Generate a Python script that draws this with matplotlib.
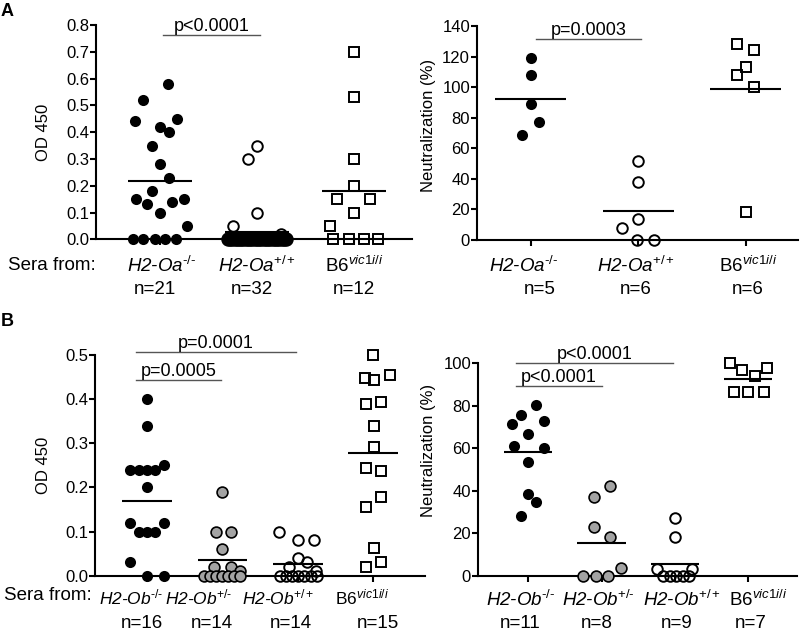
"""
Sérologie H2-O : ELISA (OD 450) et neutralisation, panneaux A et B
"""
import numpy as np
import matplotlib
matplotlib.use('Agg')
import matplotlib.pyplot as plt

plt.rcParams['font.family'] = ['Liberation Sans', 'DejaVu Sans']
plt.rcParams['mathtext.fontset'] = 'custom'
plt.rcParams['mathtext.rm'] = 'Liberation Sans'
plt.rcParams['mathtext.it'] = 'Liberation Sans:italic'

W, H = 800, 631

# ---------------- données ----------------
# A gauche : OD 450
a_od_oa_ko = [0.58, 0.52, 0.44, 0.42, 0.40, 0.45, 0.35, 0.28, 0.23, 0.18, 0.15,
              0.13, 0.10, 0.14, 0.15, 0.05, 0, 0, 0, 0, 0]
a_od_oa_wt = [0.30, 0.35, 0.10, 0.05, 0.02] + [0] * 27
a_od_b6 = [0.70, 0.53, 0.30, 0.20, 0.15, 0.15, 0.10, 0.05, 0, 0, 0, 0]

# A droite : neutralisation (%)
a_neu_oa_ko = [119, 108, 89, 77, 69]
a_neu_oa_wt = [52, 38, 14, 8, 0, 0]
a_neu_b6 = [128, 124, 113, 108, 100, 18]

# B gauche : OD 450
b_od_ob_ko = [0.40, 0.34, 0.24, 0.24, 0.24, 0.24, 0.25, 0.20, 0.12, 0.10, 0.10,
              0.10, 0.12, 0.03, 0, 0]
b_od_ob_het = [0.19, 0.10, 0.10, 0.06, 0.02, 0.02, 0.01, 0, 0, 0, 0, 0, 0, 0]
b_od_ob_wt = [0.10, 0.08, 0.08, 0.04, 0.03, 0.02, 0.01, 0, 0, 0, 0, 0, 0, 0]
b_od_b6 = [0.50, 0.447, 0.443, 0.455, 0.389, 0.394, 0.339, 0.291, 0.243, 0.238,
           0.179, 0.156, 0.062, 0.030, 0.020]

# B droite : neutralisation (%)
b_neu_ob_ko = [80.4, 71.5, 75.7, 73.0, 66.6, 61.1, 60.0, 53.7, 38.3, 34.6, 28.1]
b_neu_ob_het = [42, 37, 23, 18, 3.5, 0, 0, 0]
b_neu_ob_wt = [27, 18, 3, 3, 0, 0, 0, 0, 0]
b_neu_b6 = [100, 97, 94, 98, 86.7, 86.7, 86.7]

# étiquettes (trait d'union U+2010 pour éviter le signe moins de mathtext)
HY = '\u2010'
lab_oa = [r'H2-Oa$^{\mathit{%s/%s}}$' % (HY, HY), r'H2-Oa$^{\mathit{+/+}}$',
          r'B6$^{\mathit{vic1i/i}}$']
lab_ob = [r'H2-Ob$^{\mathit{%s/%s}}$' % (HY, HY), r'H2-Ob$^{\mathit{+/%s}}$' % HY,
          r'H2-Ob$^{\mathit{+/+}}$', r'B6$^{\mathit{vic1i/i}}$']
n_a_od = ['n=21', 'n=32', 'n=12']
n_a_neu = ['n=5', 'n=6', 'n=6']
n_b_od = ['n=16', 'n=14', 'n=14', 'n=15']
n_b_neu = ['n=11', 'n=8', 'n=9', 'n=7']

# p-values : (x début, x fin, hauteur, texte)
sig_a_od = [(1.03, 2.03, 0.763, 'p<0.0001')]
sig_a_neu = [(1.05, 2.03, 131.3, 'p=0.0003')]
sig_b_od = [(0.85, 2.98, 0.506, 'p=0.0001'), (0.85, 1.98, 0.443, 'p=0.0005')]
sig_b_neu = [(0.83, 2.98, 100.3, 'p<0.0001'), (0.83, 2.0, 89.4, 'p<0.0001')]

# ---------------- positions horizontales des points (jitter) ----------------
jit_a_od = [
    [0.08, -0.18, -0.26, 0, 0.09, 0.18, -0.08, 0, 0.09, -0.08, -0.25, -0.13, 0,
     0.12, 0.25, 0.28, -0.28, -0.17, -0.05, 0.05, 0.17],
    [-0.09, 0, 0, -0.25, 0.25] + list(np.linspace(-0.3, 0.3, 27)),
    [0, 0, 0, 0, -0.17, 0.17, 0, -0.25, -0.21, -0.05, 0.10, 0.25],
]
jit_a_neu = [
    [0, 0, 0, 0.08, -0.08],
    [0, 0, 0, -0.155, -0.01, 0.15],
    [-0.08, 0.075, 0, -0.08, 0.075, 0],
]
jit_b_od = [
    [0, 0, -0.22, -0.11, 0, 0.11, 0.23, 0, -0.22, -0.11, 0, 0.11, 0.22, -0.22, 0, 0.22],
    [0, -0.09, 0.115, 0, -0.11, 0.11, 0.24, -0.24, -0.16, -0.08, 0, 0.08, 0.16, 0.23],
    [-0.25, 0, 0.22, 0, 0.13, -0.12, 0.24, -0.23, -0.15, -0.07, 0.01, 0.09, 0.17, 0.25],
    [0, -0.10, 0.01, 0.22, -0.09, 0.11, 0.01, 0.01, -0.09, 0.11, 0.11, -0.09, 0.01,
     0.11, -0.09],
]
jit_b_neu = [
    [0.11, -0.22, -0.10, 0.22, 0, -0.2, 0.22, 0, 0, 0.11, -0.10],
    [0.11, -0.10, -0.10, 0.11, 0.26, -0.25, -0.08, 0.09],
    [0, 0, -0.25, 0.24, -0.16, -0.07, 0.02, 0.11, 0.19],
    [-0.25, -0.09, 0.09, 0.25, -0.2, 0, 0.21],
]

STYLES = {
    'black': dict(marker='o', ms=8, mfc='black', mec='black', mew=0),
    'open': dict(marker='o', ms=7.6, mfc='none', mec='black', mew=1.4),
    'grey': dict(marker='o', ms=7.8, mfc='#a3a3a3', mec='black', mew=1.2),
    'square': dict(marker='s', ms=7.2, mfc='none', mec='black', mew=1.4),
}


def make_axes(fig, x0, x1, ytop, ybot):
    """Crée un axe à partir d'une boîte en pixels"""
    return fig.add_axes([x0 / W, 1 - ybot / H, (x1 - x0) / W, (ybot - ytop) / H])


def draw_panel(ax, groups, jitters, styles, xlim, ylim, yticks, ytick_labels):
    for i, (vals, jit, st) in enumerate(zip(groups, jitters, styles)):
        x = i + 1 + np.array(jit)
        ax.plot(x, vals, ls='none', clip_on=False, zorder=3, **STYLES[st])
        m = np.mean(vals)
        ax.plot([i + 1 - 0.33, i + 1 + 0.33], [m, m], color='black', lw=1.5,
                zorder=4, clip_on=False, solid_capstyle='butt')
    ax.set_xlim(*xlim)
    ax.set_ylim(*ylim)
    ax.set_yticks(yticks)
    ax.set_yticklabels(ytick_labels)
    ax.set_xticks(range(1, len(groups) + 1))
    ax.set_xticklabels([])
    for s in ['top', 'right']:
        ax.spines[s].set_visible(False)
    for s in ['left', 'bottom']:
        ax.spines[s].set_linewidth(1.5)
    ax.tick_params(direction='out', length=4, width=1.5, labelsize=12, pad=1)
    ax.patch.set_alpha(0)


def draw_sig(ax, sigs):
    for xa, xb, yv, txt in sigs:
        ax.plot([xa, xb], [yv, yv], color='#555555', lw=1.0, clip_on=False)
        ax.annotate(txt, xy=((xa + xb) / 2, yv), xytext=(0, 4),
                    textcoords='offset pixels', ha='center', va='baseline',
                    fontsize=13, annotation_clip=False)


def draw_labels(ax, xs_name, names, xs_n, ns, dy_name, dy_n, name_size=13.5):
    for x, name in zip(xs_name, names):
        italic = name.startswith('H2')
        ax.annotate(name, xy=(x, 0), xycoords=('data', 'axes fraction'),
                    xytext=(0, -dy_name), textcoords='offset pixels',
                    ha='center', va='center', fontsize=name_size,
                    style='italic' if italic else 'normal', annotation_clip=False)
    for x, n in zip(xs_n, ns):
        ax.annotate(n, xy=(x, 0), xycoords=('data', 'axes fraction'),
                    xytext=(0, -dy_n), textcoords='offset pixels',
                    ha='center', va='center', fontsize=13.5, annotation_clip=False)


fig = plt.figure(figsize=(W / 100, H / 100), dpi=100)

# ---- A gauche
ax1 = make_axes(fig, 96, 412, 25, 239.3)
draw_panel(ax1, [a_od_oa_ko, a_od_oa_wt, a_od_b6], jit_a_od,
           ['black', 'open', 'square'], (0.34, 3.6), (0, 0.8),
           np.arange(0, 0.81, 0.1), ['%.1f' % v for v in np.arange(0, 0.81, 0.1)])
# les 27 zéros se chevauchent en bande noire pleine
zx = 2 + np.array(jit_a_od[1])
zmask = np.array(a_od_oa_wt) == 0
ax1.plot(zx[zmask], np.array(a_od_oa_wt)[zmask], ls='none', marker='o', ms=7.6,
         mfc='none', mec='black', mew=2.8, clip_on=False, zorder=3)
draw_sig(ax1, sig_a_od)
draw_labels(ax1, [1.02, 2.0, 3.0], lab_oa, [0.95, 1.95, 3.0], n_a_od, 27, 50)

# ---- A droite
ax2 = make_axes(fig, 477, 798, 26, 240)
draw_panel(ax2, [a_neu_oa_ko, a_neu_oa_wt, a_neu_b6], jit_a_neu,
           ['black', 'open', 'square'], (0.5, 3.486), (0, 140),
           range(0, 141, 20), [str(v) for v in range(0, 141, 20)])
draw_sig(ax2, sig_a_neu)
draw_labels(ax2, [0.93, 1.98, 3.02], lab_oa, [1.08, 1.98, 3.02], n_a_neu, 26, 49)

# ---- B gauche
ax3 = make_axes(fig, 95, 425, 355, 575.7)
draw_panel(ax3, [b_od_ob_ko, b_od_ob_het, b_od_ob_wt, b_od_b6], jit_b_od,
           ['black', 'grey', 'open', 'square'], (0.309, 4.69), (0, 0.5),
           np.arange(0, 0.51, 0.1), ['%.1f' % v for v in np.arange(0, 0.51, 0.1)])
draw_sig(ax3, sig_b_od)
draw_labels(ax3, [0.79, 1.68, 2.74, 3.86], lab_ob, [0.93, 1.86, 2.91, 4.07], n_b_od, 22, 48,
            name_size=12.5)

# ---- B droite
ax4 = make_axes(fig, 478, 797, 363.3, 575.7)
draw_panel(ax4, [b_neu_ob_ko, b_neu_ob_het, b_neu_ob_wt, b_neu_b6], jit_b_neu,
           ['black', 'grey', 'open', 'square'], (0.314, 4.666), (0, 100),
           range(0, 101, 20), [str(v) for v in range(0, 101, 20)])
draw_sig(ax4, sig_b_neu)
draw_labels(ax4, [0.89, 1.96, 3.1, 4.14], lab_ob, [0.89, 1.94, 3.03, 4.03], n_b_neu, 24, 48)

# titres d'axes et textes libres
fig.text(44 / W, 1 - 132 / H, 'OD 450', rotation=90, ha='center', va='center', fontsize=12)
fig.text(44 / W, 1 - 465 / H, 'OD 450', rotation=90, ha='center', va='center', fontsize=12)
fig.text(429 / W, 1 - 125 / H, 'Neutralization (%)', rotation=90, ha='center',
         va='center', fontsize=12)
fig.text(429 / W, 1 - 450 / H, 'Neutralization (%)', rotation=90, ha='center',
         va='center', fontsize=12)
fig.text(8 / W, 1 - 266 / H, 'Sera from:', ha='left', va='center', fontsize=13.5)
fig.text(4 / W, 1 - 596 / H, 'Sera from:', ha='left', va='center', fontsize=13.5)
fig.text(1 / W, 1 - 11 / H, 'A', ha='left', va='center', fontsize=13, fontweight='bold')
fig.text(1 / W, 1 - 321 / H, 'B', ha='left', va='center', fontsize=13, fontweight='bold')

plt.savefig('out.png', dpi=100)
plt.close()
